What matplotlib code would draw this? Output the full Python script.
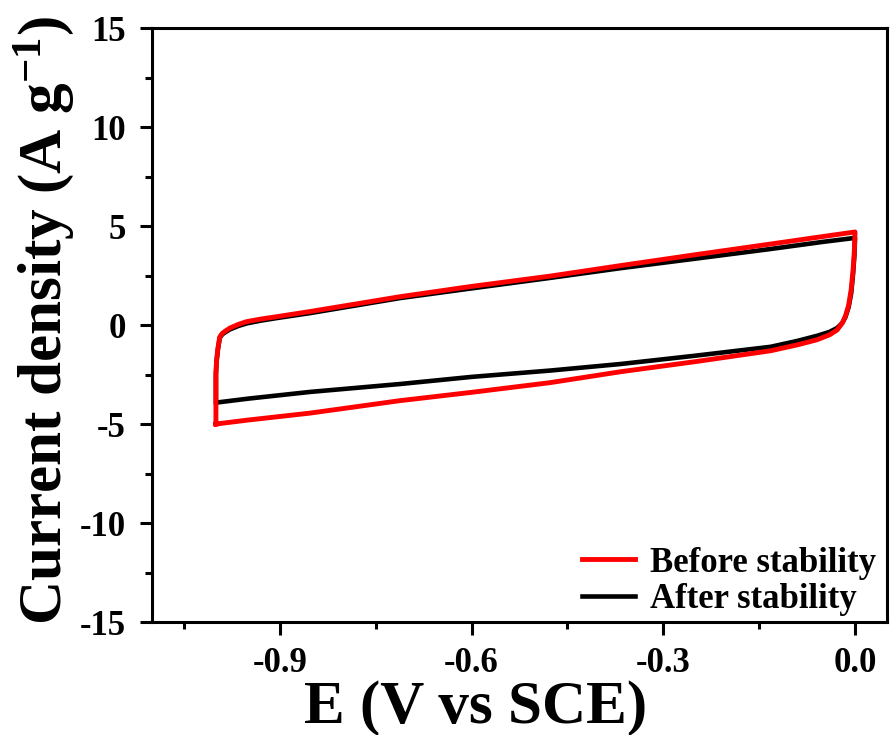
import matplotlib
matplotlib.use("Agg")
import matplotlib.pyplot as plt
from matplotlib.ticker import MultipleLocator

# ---- data ----
before_up_x = [-1.0, -1.0, -0.999, -0.997, -0.994, -0.99, -0.985, -0.978, -0.965, -0.952, -0.93, -0.905,
               -0.853, -0.712, -0.6, -0.477, -0.367, -0.25, -0.132, -0.05, 0.0]
before_up_y = [-5.0, -2.4, -1.8, -1.2, -0.6, -0.42, -0.3, -0.15, 0.03, 0.17, 0.3, 0.42,
               0.68, 1.43, 1.95, 2.47, 3.0, 3.55, 4.09, 4.47, 4.7]
before_dn_x = [0.0, -0.001, -0.003, -0.006, -0.01, -0.015, -0.02, -0.028, -0.04, -0.06, -0.09, -0.132,
               -0.25, -0.367, -0.477, -0.6, -0.712, -0.853, -0.95, -0.995, -1.0]
before_dn_y = [4.7, 3.8, 2.8, 1.8, 1.0, 0.45, 0.1, -0.25, -0.5, -0.75, -1.0, -1.3,
               -1.85, -2.36, -2.91, -3.4, -3.82, -4.45, -4.8, -4.98, -5.0]

after_up_x = [-1.0, -1.0, -0.999, -0.997, -0.994, -0.99, -0.985, -0.978, -0.965, -0.952, -0.93, -0.905,
              -0.853, -0.712, -0.6, -0.477, -0.367, -0.25, -0.132, -0.05, 0.0]
after_up_y = [-3.9, -2.5, -1.85, -1.25, -0.65, -0.47, -0.36, -0.22, -0.05, 0.08, 0.22, 0.35,
              0.6, 1.36, 1.85, 2.38, 2.87, 3.35, 3.84, 4.2, 4.4]
after_dn_x = [0.0, -0.001, -0.003, -0.006, -0.01, -0.015, -0.02, -0.028, -0.04, -0.06, -0.09, -0.132,
              -0.25, -0.367, -0.477, -0.6, -0.712, -0.853, -0.95, -0.995]
after_dn_y = [4.4, 3.5, 2.6, 1.6, 0.9, 0.4, 0.1, -0.15, -0.35, -0.55, -0.8, -1.1,
              -1.55, -1.97, -2.3, -2.62, -2.98, -3.38, -3.72, -3.9]

labels = ["Before stability", "After stability"]
colors = ["#ff0000", "#000000"]

xticks = [-0.9, -0.6, -0.3, 0.0]
xticklabels = ["-0.9", "-0.6", "-0.3", "0.0"]
yticks = [15, 10, 5, 0, -5, -10, -15]
yticklabels = ["15", "10", "5", "0", "-5", "-10", "-15"]

# ---- style ----
plt.rcParams["font.family"] = ["Liberation Serif", "DejaVu Serif"]
plt.rcParams["font.weight"] = "bold"
plt.rcParams["mathtext.fontset"] = "custom"
plt.rcParams["mathtext.rm"] = "Liberation Serif:bold"
plt.rcParams["mathtext.bf"] = "Liberation Serif:bold"
plt.rcParams["mathtext.it"] = "Liberation Serif:bold"
plt.rcParams["axes.unicode_minus"] = False

fig = plt.figure(figsize=(8.9, 7.35), dpi=100)
ax = fig.add_axes([0.1708, 0.1537, 0.9966 - 0.1708, 0.9619 - 0.1537])

ax.plot(after_up_x + after_dn_x, after_up_y + after_dn_y, color=colors[1], lw=3.3,
        label=labels[1], zorder=2)
ax.plot(before_up_x + before_dn_x, before_up_y + before_dn_y, color=colors[0], lw=3.5,
        label=labels[0], zorder=3)

ax.set_xlim(-1.1, 0.05)
ax.set_ylim(-15, 15)
ax.set_xticks(xticks)
ax.set_xticklabels(xticklabels)
ax.set_yticks(yticks)
ax.set_yticklabels(yticklabels)
ax.xaxis.set_minor_locator(MultipleLocator(0.15))
ax.yaxis.set_minor_locator(MultipleLocator(2.5))

for s in ax.spines.values():
    s.set_linewidth(2.2)
ax.tick_params(axis="both", which="major", direction="out", length=9, width=2.2,
               labelsize=25)
ax.tick_params(axis="x", which="major", pad=9)
ax.tick_params(axis="y", which="major", pad=10)
ax.tick_params(axis="both", which="minor", direction="out", length=5, width=2.2)
ax.tick_params(top=False, right=False, which="both")
for lab in ax.get_xticklabels() + ax.get_yticklabels():
    lab.set_fontweight("bold")

ax.set_xlabel("E (V vs SCE)", fontsize=44, fontweight="bold")
ax.xaxis.set_label_coords(0.44, -0.0976)
ax.set_ylabel("Current density (A g$^{-1}$)", fontsize=44, fontweight="bold")
ax.yaxis.set_label_coords(-0.103, 0.508)

handles, labs = ax.get_legend_handles_labels()
order = [1, 0]
leg = ax.legend([handles[i] for i in order], [labs[i] for i in order],
                loc="lower right", bbox_to_anchor=(0.985, 0.01), frameon=False,
                handlelength=1.53, handletextpad=0.43, labelspacing=0.1,
                borderaxespad=0.0, borderpad=0.0,
                prop={"size": 25, "weight": "bold"})

fig.savefig("out.png", dpi=100)
